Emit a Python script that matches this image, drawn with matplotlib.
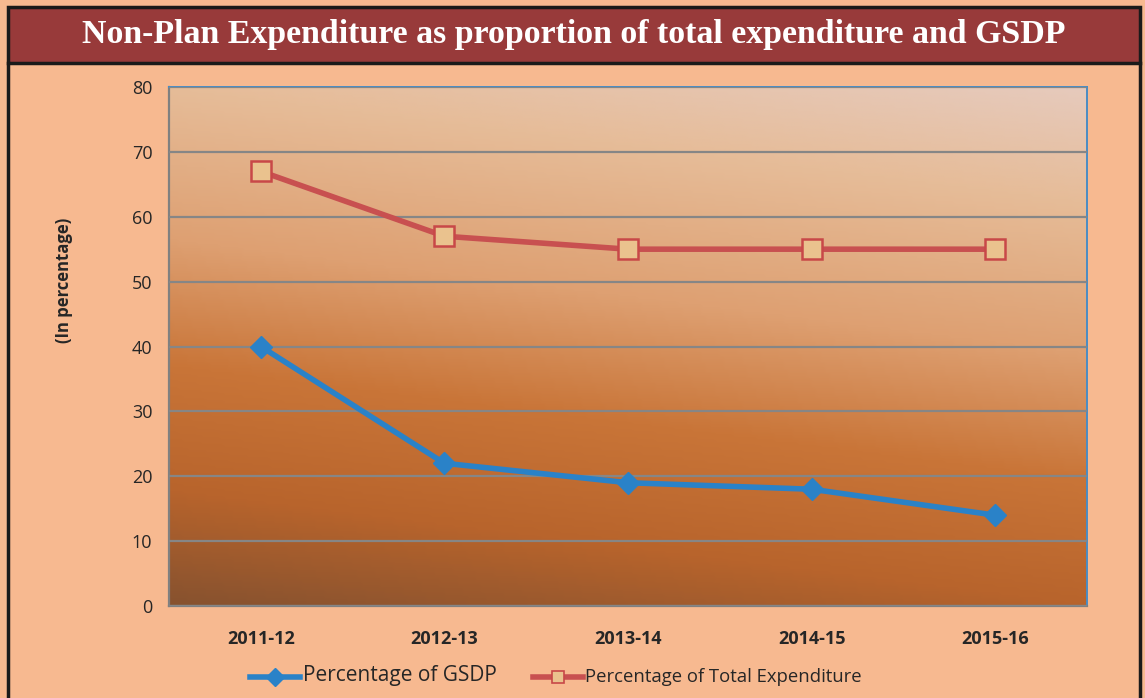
import matplotlib.pyplot as plt
import numpy as np
from matplotlib.colors import LinearSegmentedColormap
from matplotlib.patches import Rectangle
from matplotlib.lines import Line2D

# data
years = ['2011-12', '2012-13', '2013-14', '2014-15', '2015-16']
gsdp_pct = [40, 22, 19, 18, 14]
total_exp_pct = [67, 57, 55, 55, 55]

W, H = 1145, 698
fig = plt.figure(figsize=(W / 100, H / 100), dpi=100)
fig.patch.set_facecolor('#f7b990')

# title band and frame
fig.patches.append(Rectangle((8 / W, 1 - 63 / H), 1132 / W, 56 / H, transform=fig.transFigure,
                             facecolor='#983a3a', edgecolor='#1a1a1a', lw=2.5, zorder=0))
fig.add_artist(Line2D([8 / W, 8 / W], [0, 1 - 63 / H], color='#1a1a1a', lw=2.5))
fig.add_artist(Line2D([1140 / W, 1140 / W], [0, 1 - 63 / H], color='#1a1a1a', lw=2.5))
fig.text(574 / W, 1 - 35 / H, 'Non-Plan Expenditure as proportion of total expenditure and GSDP',
         color='white', fontsize=24.4, fontweight='bold', family='Liberation Serif',
         ha='center', va='center')

ax = fig.add_axes([169 / W, 1 - 606 / H, 918 / W, 519 / H])

# gradient background of the plot area
cmap = LinearSegmentedColormap.from_list('bg', [
    (0.0, '#e6cabc'), (0.18, '#e6bc98'), (0.42, '#dea072'),
    (0.62, '#c97538'), (0.82, '#b8642c'), (1.0, '#87522f')])
yy, xx = np.mgrid[0:1:200j, 0:1:200j]
t = 0.82 * (1 - yy) + 0.18 * (1 - xx)
t = (t - t.min()) / (t.max() - t.min())
ax.imshow(t, cmap=cmap, extent=[0, 1, 0, 1], origin='lower', aspect='auto',
          transform=ax.transAxes, zorder=0)

x = np.arange(len(years))
ax.plot(x, gsdp_pct, color='#2a82c8', lw=4, marker='D', ms=11,
        markerfacecolor='#2a82c8', markeredgecolor='#2a82c8', zorder=3)
ax.plot(x, total_exp_pct, color='#c85050', lw=4, marker='s', ms=14,
        markerfacecolor='#eac28e', markeredgecolor='#c84848', markeredgewidth=1.8,
        zorder=3)

ax.set_xlim(-0.5, 4.5)
ax.set_ylim(0, 80)
ax.set_yticks(range(0, 81, 10))
ax.set_xticks(x)
ax.set_xticklabels(years, fontsize=13, fontweight='bold', family='Open Sans', color='#262626')
for lab in ax.get_yticklabels():
    lab.set_fontsize(13)
    lab.set_family('Open Sans')
    lab.set_color('#262626')
ax.tick_params(length=0, pad=12)
ax.tick_params(axis='x', pad=17)
ax.grid(axis='y', color='#868686', lw=1.6, zorder=1)
ax.set_axisbelow(False)
for s in ['left', 'bottom']:
    ax.spines[s].set_color('#808080')
    ax.spines[s].set_linewidth(1.6)
for s in ['top', 'right']:
    ax.spines[s].set_color('#4a8cc4')
    ax.spines[s].set_linewidth(1.4)

fig.text(64 / W, 1 - 280 / H, '(In percentage)', rotation=90, fontsize=12,
         fontweight='bold', family='Open Sans', color='#262626', ha='center', va='center')

# legend with smaller markers than the plot
h1 = Line2D([], [], color='#2a82c8', lw=4, marker='D', ms=9, markerfacecolor='#2a82c8',
            markeredgecolor='#2a82c8')
h2 = Line2D([], [], color='#c85050', lw=4, marker='s', ms=8, markerfacecolor='#eac28e',
            markeredgecolor='#c84848', markeredgewidth=1.2)
leg = fig.legend([h1, h2], ['Percentage of GSDP', 'Percentage of Total Expenditure'],
                 loc='center', bbox_to_anchor=(556 / W, 1 - 676 / H), ncol=2,
                 frameon=False, handlelength=3.6, columnspacing=2.6, handletextpad=0.2)
texts = leg.get_texts()
texts[0].set_fontsize(15)
texts[1].set_fontsize(13.3)
for tx in texts:
    tx.set_family('Open Sans')
    tx.set_color('#262626')

fig.savefig('out.png', dpi=100, facecolor=fig.get_facecolor())
